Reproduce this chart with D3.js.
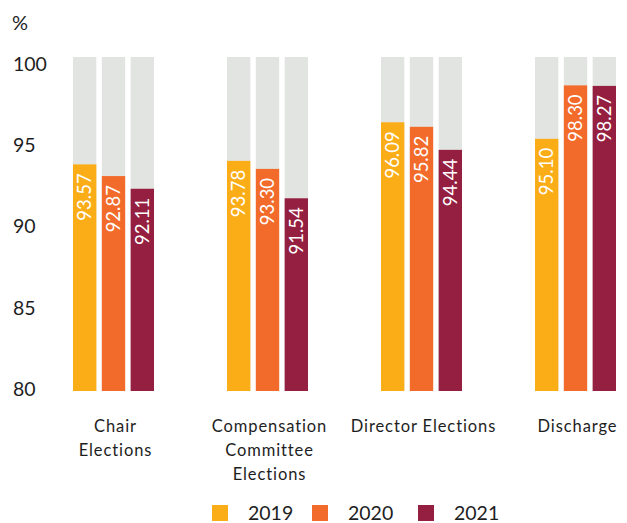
<!DOCTYPE html>
<html>
<head>
<meta charset="utf-8">
<script src="https://cdn.jsdelivr.net/npm/d3@7"></script>
<style>
  html, body { margin: 0; padding: 0; background: #fff; }
  svg { display: block; font-family: "Lato", "Open Sans", sans-serif; }
</style>
</head>
<body>
<svg id="chart" width="627" height="523"></svg>
<script>
// Approval rates by resolution type, per year
const categories = [["Chair", "Elections"], ["Compensation", "Committee", "Elections"], ["Director Elections"], ["Discharge"]];
const years = ["2019", "2020", "2021"];
const values2019 = [93.57, 93.78, 96.09, 95.10];
const values2020 = [92.87, 93.30, 95.82, 98.30];
const values2021 = [92.11, 91.54, 94.44, 98.27];
const yTicks = [80, 85, 90, 95, 100];

const series = [values2019, values2020, values2021];
const colors = ["#fbad18", "#f26b2b", "#951f40"];
const trackColor = "#e2e4e1";
const textColor = "#1e1e1e";

const svg = d3.select("#chart");

// Bars span 80..100 on the value scale
const y = d3.scaleLinear().domain([80, 100]).range([391, 57]);
// Tick labels sit on a slightly tighter band than the bar tracks
const yLabel = d3.scaleLinear().domain([80, 100]).range([389, 64]);
const x0 = d3.scaleBand().domain(d3.range(categories.length)).range([35, 651]);
const x1 = d3.scaleBand().domain(d3.range(years.length)).range([38, 119]).paddingInner(0.19);

// Y axis labels, left-aligned
const yAxis = d3.axisLeft(yLabel).tickValues(yTicks).tickSize(0).tickPadding(0);
const gy = svg.append("g").attr("transform", "translate(13,0)").call(yAxis);
gy.select(".domain").remove();
gy.selectAll("text")
  .attr("text-anchor", "start")
  .attr("font-size", 19.5)
  .attr("fill", textColor)
  .attr("font-family", "Lato, sans-serif");

svg.append("text")
  .attr("x", 12).attr("y", 30)
  .attr("font-size", 20)
  .attr("fill", textColor)
  .text("%");

const groups = svg.selectAll("g.cat")
  .data(categories)
  .join("g")
  .attr("class", "cat")
  .attr("transform", (d, i) => `translate(${x0(i)},0)`);

groups.each(function (cat, ci) {
  const g = d3.select(this);
  series.forEach((vals, si) => {
    const v = vals[ci];
    const bx = x1(si);
    const bw = x1.bandwidth();
    g.append("rect")
      .attr("x", bx).attr("width", bw)
      .attr("y", y(100)).attr("height", y(80) - y(100))
      .attr("fill", trackColor);
    g.append("rect")
      .attr("x", bx).attr("width", bw)
      .attr("y", y(v)).attr("height", y(80) - y(v))
      .attr("fill", colors[si]);
    g.append("text")
      .attr("transform", `translate(${bx + bw / 2 + 6.5},${y(v) + 9}) rotate(-90)`)
      .attr("text-anchor", "end")
      .attr("font-size", 18.5)
      .attr("fill", "#fff")
      .text(v.toFixed(2));
  });

  const label = g.append("text")
    .attr("text-anchor", "middle")
    .attr("font-size", 16.5)
    .attr("letter-spacing", 0.9)
    .attr("fill", textColor);
  cat.forEach((line, li) => {
    label.append("tspan")
      .attr("x", (x1.range()[0] + x1.range()[1]) / 2 + 2)
      .attr("y", 432 + li * 24)
      .text(line);
  });
});

// Legend
const legendX = [212, 312, 418];
const legend = svg.selectAll("g.legend")
  .data(years)
  .join("g")
  .attr("class", "legend")
  .attr("transform", (d, i) => `translate(${legendX[i]},505)`);
legend.append("rect")
  .attr("width", 16).attr("height", 16)
  .attr("fill", (d, i) => colors[i]);
legend.append("text")
  .attr("x", 36).attr("y", 15)
  .attr("font-size", 19.5)
  .attr("fill", textColor)
  .text(d => d);
</script>
</body>
</html>
